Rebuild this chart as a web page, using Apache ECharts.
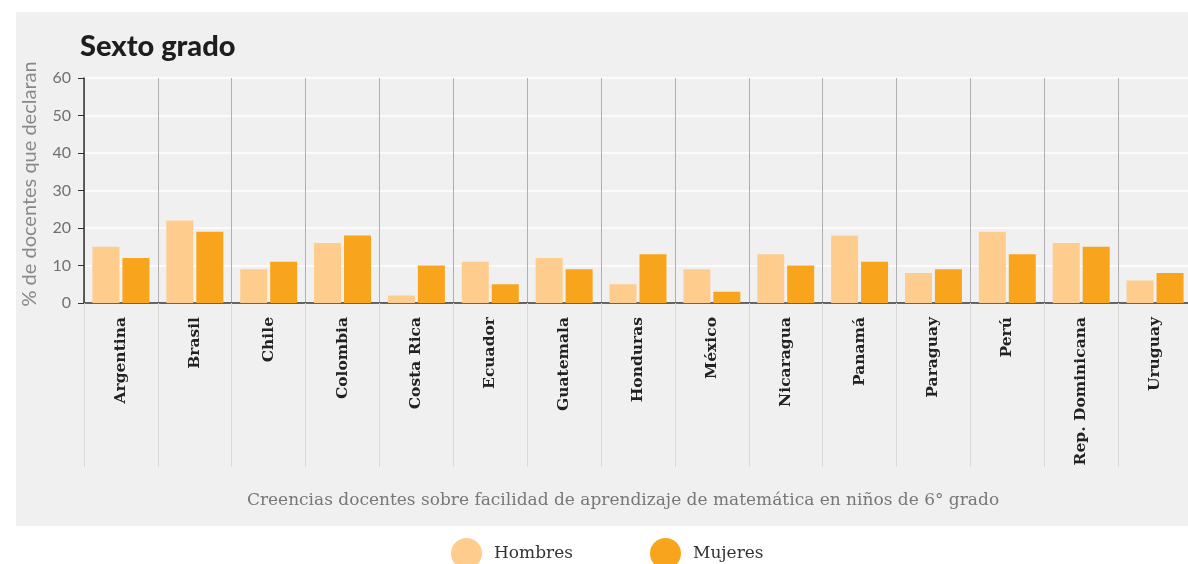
<!DOCTYPE html>
<html>
<head>
<meta charset="utf-8">
<script src="https://cdn.jsdelivr.net/npm/echarts@6/dist/echarts.min.js"></script>
<style>
  html, body { margin: 0; padding: 0; background: #fff; }
  #chart { width: 1188px; height: 564px; }
</style>
</head>
<body>
<div id="chart"></div>
<script>
// datos
var paises = ['Argentina', 'Brasil', 'Chile', 'Colombia', 'Costa Rica', 'Ecuador', 'Guatemala', 'Honduras',
  'México', 'Nicaragua', 'Panamá', 'Paraguay', 'Perú', 'Rep. Dominicana', 'Uruguay']
var hombres = [15, 22, 9, 16, 2, 11, 12, 5, 9, 13, 18, 8, 19, 16, 6]
var mujeres = [12, 19, 11, 18, 10, 5, 9, 13, 3, 10, 11, 9, 13, 15, 8]
var yTicks = [0, 10, 20, 30, 40, 50, 60]

var myChart = echarts.init(document.getElementById('chart'))
var option = {
  animation: false,
  backgroundColor: '#ffffff',
  graphic: [
    {
      type: 'rect',
      z: -10,
      silent: true,
      shape: { x: 16, y: 12, width: 1172, height: 514 },
      style: { fill: '#f0f0f0' }
    },
    {
      type: 'text',
      x: 623,
      y: 501,
      style: {
        text: 'Creencias docentes sobre facilidad de aprendizaje de matemática en niños de 6° grado',
        fill: '#777777',
        font: '17px "DejaVu Serif"',
        align: 'center',
        verticalAlign: 'middle'
      }
    },
    {
      // titulo del eje y
      type: 'text',
      x: 30,
      y: 184,
      rotation: Math.PI / 2,
      style: {
        text: '% de docentes que declaran',
        fill: '#888888',
        font: '20px Lato',
        align: 'center',
        verticalAlign: 'middle'
      }
    }
  ],
  title: {
    text: 'Sexto grado',
    left: 75,
    top: 27,
    textStyle: {
      fontFamily: 'Lato',
      fontWeight: 900,
      fontSize: 29,
      color: '#1f1d1e'
    }
  },
  legend: {
    data: ['Hombres', 'Mujeres'],
    left: 446,
    top: 533,
    icon: 'circle',
    itemWidth: 31,
    itemHeight: 31,
    itemGap: 77,
    textStyle: {
      fontFamily: 'DejaVu Serif',
      fontSize: 17,
      color: '#333',
      padding: [0, 0, 0, 7]
    }
  },
  grid: {
    left: 84,
    top: 78,
    width: 1108,
    height: 225,
    outerBoundsMode: 'none'
  },
  xAxis: {
    type: 'category',
    data: paises,
    axisLine: { lineStyle: { color: '#333', width: 1.5 } },
    axisTick: { show: true, length: 164, lineStyle: { color: '#d9d9d9' } },
    splitLine: { show: true, interval: 0, lineStyle: { color: '#b0b0b0', width: 1 } },
    axisLabel: {
      interval: 0,
      rotate: 90,
      margin: 14,
      fontFamily: 'DejaVu Serif',
      fontWeight: 'bold',
      fontSize: 15.5,
      color: '#222'
    }
  },
  yAxis: {
    type: 'value',
    min: yTicks[0],
    max: yTicks[yTicks.length - 1],
    interval: 10,
    axisLine: { show: true, lineStyle: { color: '#333', width: 1.5 } },
    axisTick: { show: true, length: 6, lineStyle: { color: '#333' } },
    splitLine: { lineStyle: { color: '#ffffff', width: 1.5 } },
    axisLabel: {
      margin: 13,
      fontFamily: 'Lato',
      fontSize: 16,
      color: '#707070'
    }
  },
  series: [
    {
      name: 'Hombres',
      type: 'bar',
      data: hombres,
      barWidth: 27,
      barGap: '11%',
      itemStyle: { color: '#fecd8e' }
    },
    {
      name: 'Mujeres',
      type: 'bar',
      data: mujeres,
      barWidth: 27,
      itemStyle: { color: '#f8a51d' }
    }
  ]
}
myChart.setOption(option)
</script>
</body>
</html>
